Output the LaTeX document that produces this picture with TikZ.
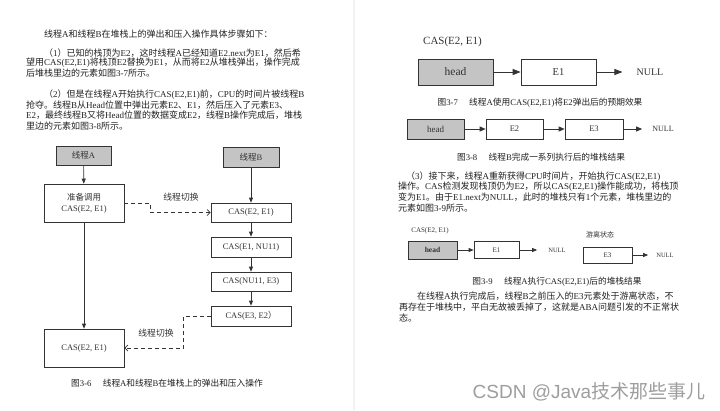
\documentclass[tikz,border=0pt]{standalone}
\usepackage{fontspec}
\setmainfont{Liberation Serif}
\newfontfamily\cjk{Noto Sans CJK SC}
\newfontfamily\wmfont{Liberation Sans}
\usetikzlibrary{arrows.meta}
\XeTeXinterchartokenstate=1
\newXeTeXintercharclass\CJKcls
\makeatletter
\def\setcjkrange#1#2{\count@=#1\relax\loop\XeTeXcharclass\count@=\CJKcls\relax\ifnum\count@<#2\relax\advance\count@ by 1\relax\repeat}
\makeatother
\setcjkrange{"3000}{"303F}
\setcjkrange{"4E00}{"9FFF}
\setcjkrange{"FF00}{"FFEF}
\XeTeXinterchartoks 0 \CJKcls={\begingroup\cjk}
\XeTeXinterchartoks 4095 \CJKcls={\begingroup\cjk}
\XeTeXinterchartoks \CJKcls 0={\endgroup}
\XeTeXinterchartoks \CJKcls 4095={\endgroup}
\definecolor{gfill}{HTML}{C4C4C4}
\definecolor{ink}{HTML}{222222}
\definecolor{figink}{HTML}{333333}
\tikzset{
  txt/.style={inner sep=0pt, anchor=west, text=ink, font=\fontsize{9}{10}\selectfont},
  capt/.style={inner sep=0pt, text=ink, font=\fontsize{8.7}{10}\selectfont},
  boxw/.style={draw=figink, line width=0.7pt, minimum width=80pt, minimum height=19pt, inner sep=0pt, text=figink, font=\fontsize{8.5}{11}\selectfont},
  gboxw/.style={boxw, fill=gfill},
  lbl/.style={inner sep=0pt, text=figink},
  arr/.style={draw=figink, line width=0.7pt, -{Triangle[length=5pt,width=4pt]}},
  bigarr/.style={draw=figink, line width=0.9pt, -{Triangle[length=8pt,width=6pt]}},
  sw/.style={draw=figink, line width=0.7pt, dash pattern=on 4pt off 3pt, -{Straight Barb[length=3pt,width=6pt]}}
}
\begin{document}
\begin{tikzpicture}[x=1pt,y=-1pt]
\useasboundingbox (0,0) rectangle (720,410);
\fill[white] (0,0) rectangle (720,410);
\fill[black!5] (353,0) rectangle (355,410);

% ---------- left page text ----------
\node[txt] (p0) at (44,34) {线程A和线程B在堆栈上的弹出和压入操作具体步骤如下：};
\node[txt] (p1a) at (44,53) {（1）已知的栈顶为E2，这时线程A已经知道E2.next为E1，然后希};
\node[txt] (p1b) at (26,63) {望用CAS(E2,E1)将栈顶E2替换为E1，从而将E2从堆栈弹出，操作完成};
\node[txt] (p1c) at (26,73) {后堆栈里边的元素如图3-7所示。};
\node[txt] (p2a) at (44,95) {（2）但是在线程A开始执行CAS(E2,E1)前，CPU的时间片被线程B};
\node[txt] (p2b) at (26,105) {抢夺。线程B从Head位置中弹出元素E2、E1，然后压入了元素E3、};
\node[txt] (p2c) at (26,115.5) {E2，最终线程B又将Head位置的数据变成E2，线程B操作完成后，堆栈};
\node[txt] (p2d) at (26,126) {里边的元素如图3-8所示。};

% ---------- figure 3-6 ----------
\node[gboxw, minimum width=55pt, minimum height=19pt] (tA) at (83.5,155.5) {线程A};
\node[boxw, minimum height=38pt, align=center] (prep) at (84,203) {准备调用\\CAS(E2, E1)};
\node[boxw, minimum height=38pt] (botA) at (84,348) {CAS(E2, E1)};
\node[gboxw, minimum width=56pt, minimum height=20pt] (tB) at (251,157) {线程B};
\node[boxw] (B1) at (251,212.5) {CAS(E2, E1)};
\node[boxw, minimum height=20pt] (B2) at (251,247) {CAS(E1, NU11)};
\node[boxw] (B3) at (251,281.5) {CAS(NU11, E3)};
\node[boxw, minimum height=20pt] (B4) at (251,316) {CAS(E3, E2）};
\draw[arr] (tA) -- (prep);
\draw[arr] (prep) -- (botA);
\draw[arr] (tB) -- (B1);
\draw[arr] (B1) -- (B2);
\draw[arr] (B2) -- (B3);
\draw[arr] (B3) -- (B4);
\draw[sw] (prep.east) -- ++(26,0) |- (B1.west);
\draw[sw] (B4.west) -- ++(-27,0) |- (botA.east);
\node[lbl, font=\fontsize{8.8}{10}\selectfont] (sw1) at (181,197) {线程切换};
\node[lbl, font=\fontsize{8.8}{10}\selectfont] (sw2) at (156,333) {线程切换};
\node[capt] (c36) at (167,383) {图3-6\hspace{1.3em}线程A和线程B在堆栈上的弹出和压入操作};

% ---------- figure 3-7 ----------
\node[lbl, font=\fontsize{11}{12}\selectfont] (cas7) at (452.5,42) {CAS(E2, E1)};
\node[gboxw, minimum width=75pt, minimum height=26pt, font=\fontsize{11.5}{12}\selectfont] (h7) at (455.5,72) {head};
\node[boxw, minimum width=75pt, minimum height=26pt, font=\fontsize{10.5}{12}\selectfont] (e17) at (558.5,72) {E1};
\node[lbl, inner sep=0pt, font=\fontsize{10}{12}\selectfont] (n7) at (650,72) {NULL};
\draw[bigarr] (h7) -- (e17);
\draw[bigarr, shorten >=14pt] (e17) -- (n7.west);
\node[capt] (c37) at (540,103) {图3-7\hspace{1.3em}线程A使用CAS(E2,E1)将E2弹出后的预期效果};

% ---------- figure 3-8 ----------
\node[gboxw, minimum width=57pt, minimum height=20pt, font=\fontsize{9}{10}\selectfont] (h8) at (435.5,129) {head};
\node[boxw, minimum width=57pt, minimum height=20pt, font=\fontsize{8.5}{10}\selectfont] (e28) at (514.5,129) {E2};
\node[boxw, minimum width=58pt, minimum height=20pt, font=\fontsize{8.5}{10}\selectfont] (e38) at (594,129) {E3};
\node[lbl, font=\fontsize{8}{10}\selectfont] (n8) at (663,129) {NULL};
\draw[arr, -{Triangle[length=6pt,width=5pt]}] (h8) -- (e28);
\draw[arr, -{Triangle[length=6pt,width=5pt]}] (e28) -- (e38);
\draw[arr, -{Triangle[length=6pt,width=5pt]}, shorten >=10pt] (e38) -- (n8.west);
\node[capt] (c38) at (541,157) {图3-8\hspace{1.3em}线程B完成一系列执行后的堆栈结果};

% ---------- right page text ----------
\node[txt] (p3a) at (406,177) {（3）接下来，线程A重新获得CPU时间片，开始执行CAS(E2,E1)};
\node[txt] (p3b) at (398,187) {操作。CAS检测发现栈顶仍为E2，所以CAS(E2,E1)操作能成功，将栈顶};
\node[txt] (p3c) at (398,197) {变为E1。由于E1.next为NULL，此时的堆栈只有1个元素，堆栈里边的};
\node[txt] (p3d) at (398,208) {元素如图3-9所示。};

% ---------- figure 3-9 ----------
\node[lbl, font=\fontsize{7}{8}\selectfont] (cas9) at (430,231) {CAS(E2, E1)};
\node[gboxw, minimum width=49pt, minimum height=18pt, font=\bfseries\fontsize{7.5}{8}\selectfont] (h9) at (432.5,250) {head};
\node[boxw, minimum width=45pt, minimum height=17pt, font=\fontsize{7}{8}\selectfont] (e19) at (496.5,250) {E1};
\node[lbl, font=\fontsize{6.5}{8}\selectfont] (n9) at (557,250) {NULL};
\draw[arr] (h9) -- (e19);
\draw[arr, shorten >=11pt] (e19) -- (n9.west);
\node[lbl, font=\fontsize{7}{8}\selectfont] (free) at (600,235) {游离状态};
\node[boxw, minimum width=49pt, minimum height=16pt, font=\fontsize{7}{8}\selectfont] (e39) at (607.5,255) {E3};
\node[lbl, font=\fontsize{6.5}{8}\selectfont] (n39) at (665,255) {NULL};
\draw[arr, shorten >=8pt] (e39) -- (n39.west);
\node[capt] (c39) at (557,282) {图3-9\hspace{1.3em}线程A执行CAS(E2,E1)后的堆栈结果};

% ---------- final paragraph ----------
\node[txt] (p4a) at (417,296) {在线程A执行完成后，线程B之前压入的E3元素处于游离状态，不};
\node[txt] (p4b) at (399,307) {再存在于堆栈中，平白无故被丢掉了，这就是ABA问题引发的不正常状};
\node[txt] (p4c) at (399,318) {态。};

% ---------- watermark ----------
\node[inner sep=0pt, text=black!38, font=\wmfont\fontsize{19}{20}\selectfont] (wm) at (589,392) {CSDN @Java技术那些事儿};
\end{tikzpicture}
\end{document}
